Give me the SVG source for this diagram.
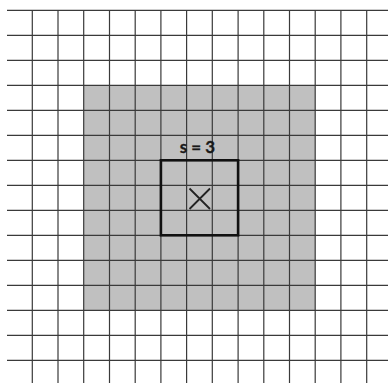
<svg xmlns="http://www.w3.org/2000/svg" width="388" height="383" viewBox="0 0 388 383">
<style>
.g{stroke:#3a3a3a;stroke-width:1.2;fill:none}
.box{stroke:#111;stroke-width:2.6;fill:none}
.lbl{font-family:Lato,"Liberation Sans",Arial,sans-serif;font-weight:bold;font-size:17px;fill:#1a1a1a;stroke:#1a1a1a;stroke-width:0.3}
</style>
<rect width="388" height="383" fill="#fff"/>
<g id="shaded"><rect x="83.7" y="85.3" width="231.5" height="225" fill="#c0c0c0"/></g>
<g id="grid">
<path class="g" d="M7 10.3H388M7 35.3H388M7 60.3H388M7 85.3H388M7 110.3H388M7 135.3H388M7 160.3H388M7 185.3H388M7 210.3H388M7 235.3H388M7 260.3H388M7 285.3H388M7 310.3H388M7 335.3H388M7 360.3H388"/>
<path class="g" d="M32.3 10V383M58 10V383M83.7 10V383M109.5 10V383M135.2 10V383M160.9 10V383M186.6 10V383M212.3 10V383M238.1 10V383M263.8 10V383M289.5 10V383M315.2 10V383M340.9 10V383M366.7 10V383"/>
</g>
<g id="window">
<rect class="box" x="160.9" y="160.3" width="77.2" height="75"/>
<path d="M189.5 188.5L210 209M210 188.5L189.5 209" stroke="#222" stroke-width="1.8" fill="none"/>
<text class="lbl" x="197.5" y="153" text-anchor="middle">s = 3</text>
</g>
</svg>
